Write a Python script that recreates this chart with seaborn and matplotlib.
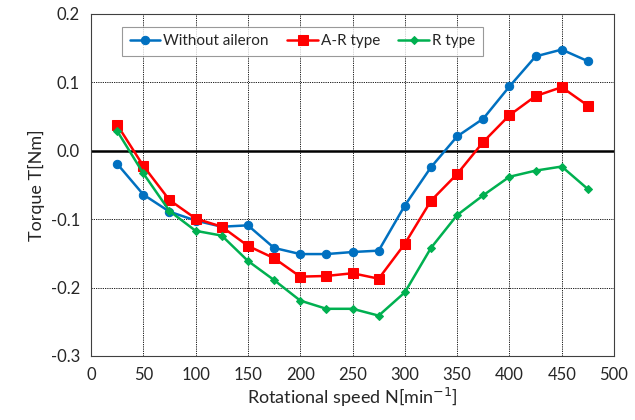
import matplotlib
matplotlib.use("Agg")
import matplotlib.pyplot as plt
import pandas as pd
import seaborn as sns

speed = [25, 50, 75, 100, 125, 150, 175, 200, 225, 250, 275, 300, 325, 350, 375, 400, 425, 450, 475]
without_aileron = [-0.019, -0.064, -0.089, -0.102, -0.111, -0.109, -0.142, -0.151, -0.151, -0.148,
                   -0.146, -0.080, -0.024, 0.021, 0.047, 0.094, 0.138, 0.148, 0.131]
ar_type = [0.038, -0.022, -0.072, -0.099, -0.111, -0.139, -0.157, -0.184, -0.183, -0.179,
           -0.187, -0.136, -0.073, -0.034, 0.013, 0.052, 0.080, 0.093, 0.066]
r_type = [0.029, -0.033, -0.088, -0.117, -0.124, -0.161, -0.189, -0.219, -0.231, -0.231,
          -0.241, -0.207, -0.142, -0.094, -0.065, -0.038, -0.029, -0.023, -0.056]

series_names = ["Without aileron", "A-R type", "R type"]
colors = ["#0070C0", "#FF0000", "#00B050"]
markers = ["o", "s", "D"]
marker_sizes = [6, 7, 4.5]

df = pd.DataFrame({
    "N": speed * 3,
    "T": without_aileron + ar_type + r_type,
    "series": [n for n in series_names for _ in speed],
})

sns.set_style("white")
plt.rcParams["font.family"] = ["Lato", "DejaVu Sans"]
plt.rcParams["axes.unicode_minus"] = False

fig = plt.figure(figsize=(6.35, 4.2), dpi=100)
ax = fig.add_axes([0.1433, 0.1524, 0.8237, 0.8143])

for name, c, m, ms in zip(series_names, colors, markers, marker_sizes):
    sub = df[df["series"] == name]
    sns.lineplot(data=sub, x="N", y="T", ax=ax, color=c, marker=m, markersize=ms,
                 markeredgecolor=c, linewidth=1.8, label=name, zorder=3)

ax.axhline(0, color="black", linewidth=1.8, zorder=2)
ax.set_xlim(0, 500)
ax.set_ylim(-0.3, 0.2)
ax.set_xticks(range(0, 501, 50))
ax.set_yticks([-0.3, -0.2, -0.1, 0.0, 0.1, 0.2])
ax.set_yticklabels(["-0.3", "-0.2", "-0.1", "0.0", "0.1", "0.2"])
ax.grid(True, color="black", linestyle=(0, (1.5, 1.2)), linewidth=0.6)
ax.tick_params(axis="both", labelsize=12, length=0, pad=8)
for s in ax.spines.values():
    s.set_color("#404040")
    s.set_linewidth(0.8)

ax.set_xlabel("Rotational speed N[min$^{-1}$]", fontsize=13, labelpad=2)
ax.set_ylabel("Torque T[Nm]", fontsize=13, labelpad=4)

leg = ax.legend(loc="upper left", bbox_to_anchor=(0.045, 0.985), ncol=3, fontsize=11,
                frameon=True, fancybox=False, edgecolor="#808080", handlelength=2.0,
                handletextpad=0.2, columnspacing=1.2, borderpad=0.5)
leg.get_frame().set_linewidth(0.8)

fig.savefig("out.png", dpi=100)
